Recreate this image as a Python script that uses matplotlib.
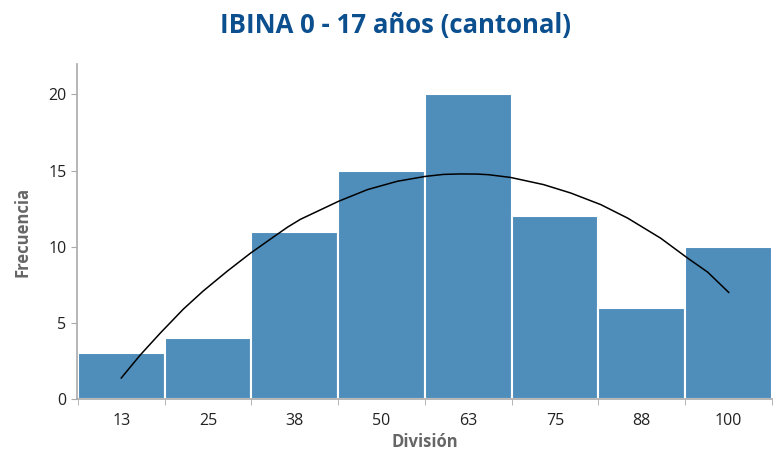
import matplotlib.pyplot as plt
import numpy as np

plt.rcParams['font.family'] = ['Open Sans', 'DejaVu Sans']

# histogram bins (labels) and counts
categories = ['13', '25', '38', '50', '63', '75', '88', '100']
counts = [3, 4, 11, 15, 20, 12, 6, 10]

# fitted curve (x in bin positions)
curve_x = [0.0, 0.219, 0.450, 0.715, 0.946, 1.223, 1.488, 1.719, 1.915, 2.065,
           2.503, 2.837, 3.183, 3.506, 3.714, 3.910, 4.106, 4.233, 4.487, 4.867,
           5.179, 5.525, 5.836, 6.217, 6.528, 6.759, 7.001]
curve_y = [1.38, 2.89, 4.33, 5.9, 7.1, 8.4, 9.57, 10.5, 11.28, 11.8,
           12.98, 13.75, 14.3, 14.62, 14.75, 14.78, 14.77, 14.73, 14.55, 14.08,
           13.53, 12.77, 11.88, 10.56, 9.25, 8.33, 7.0]

fig = plt.figure(figsize=(7.73, 4.54), dpi=100)
ax = fig.add_axes([77 / 773, 1 - 399 / 454, 695 / 773, 335 / 454])

pos = np.arange(len(categories))
ax.bar(pos, counts, width=1.0, color='#4f8ebb', edgecolor='white', linewidth=1.5)
ax.plot(curve_x, curve_y, color='black', lw=1.1)

ax.set_xlim(-0.51, 7.5)
ax.set_ylim(0, 22)
ax.set_xticks(pos)
ax.set_xticklabels(categories)
ax.set_xticks(np.arange(-0.5, 8, 1), minor=True)
ax.tick_params(axis='x', which='major', length=0, pad=10, labelsize=11.5, labelcolor='#222222')
ax.tick_params(axis='x', which='minor', length=4, color='#aaaaaa')
ax.set_yticks([0, 5, 10, 15, 20])
ax.tick_params(axis='y', length=4, color='#aaaaaa', labelsize=11.5, labelcolor='#222222')

for s in ['top', 'right']:
    ax.spines[s].set_visible(False)
for s in ['left', 'bottom']:
    ax.spines[s].set_color('#aaaaaa')
    ax.spines[s].set_linewidth(1.2)

ax.set_xlabel('División', fontsize=12, fontweight='bold', color='#666666', labelpad=3)
ax.set_ylabel('Frecuencia', fontsize=12, fontweight='bold', color='#666666', labelpad=12)
fig.text(395 / 773, 1 - 25 / 454, 'IBINA 0 - 17 años (cantonal)', ha='center', va='center',
         fontsize=18.5, fontweight='bold', color='#0b4f8f')

fig.savefig('out.png', dpi=100)
